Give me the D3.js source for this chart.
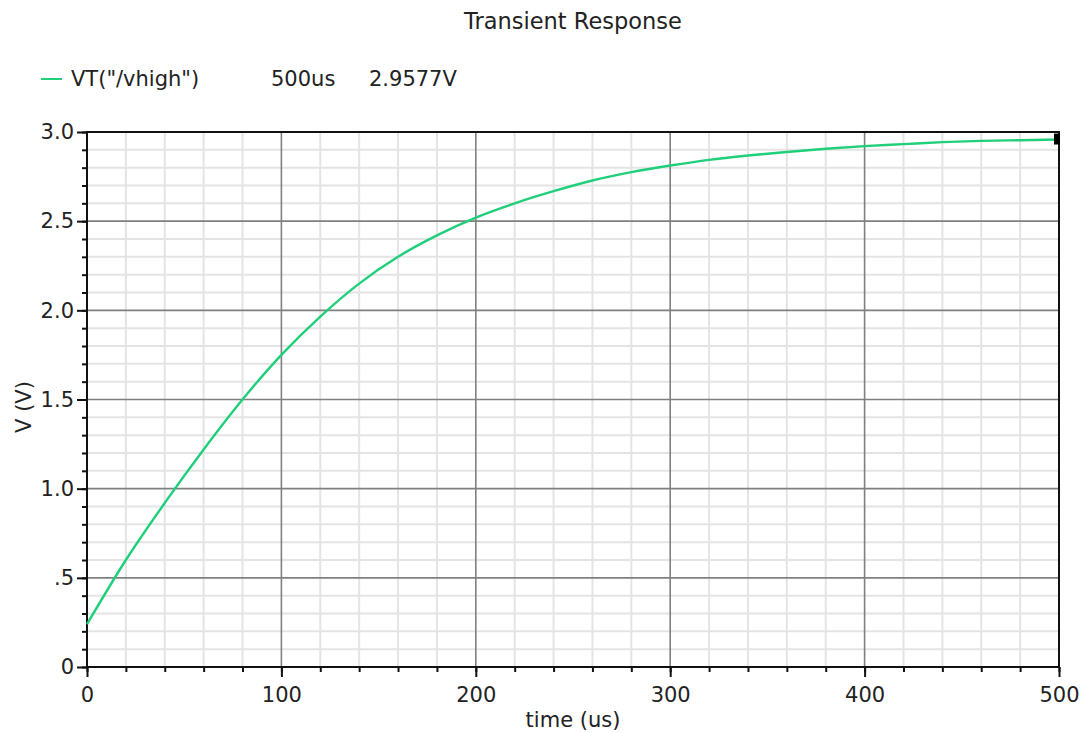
<!DOCTYPE html>
<html>
<head>
<meta charset="utf-8">
<script src="https://cdn.jsdelivr.net/npm/d3@7"></script>
<style>
  html, body { margin: 0; padding: 0; background: #ffffff; }
  svg { display: block; }
  text { font-family: "DejaVu Sans", sans-serif; fill: #222; }
</style>
</head>
<body>
<svg id="chart" width="1086" height="733"></svg>
<script>
// Transient response of node /vhigh, sampled every 20 us
const timeUs = [0, 20, 40, 60, 80, 100, 120, 140, 160, 180, 200, 220, 240, 260,
                280, 300, 320, 340, 360, 380, 400, 420, 440, 460, 480, 500];
const voltage = [0.24, 0.60, 0.92, 1.22, 1.50, 1.75, 1.965, 2.15, 2.30, 2.42, 2.52, 2.60, 2.668, 2.728,
                 2.775, 2.812, 2.844, 2.868, 2.888, 2.906, 2.921, 2.932, 2.943, 2.950, 2.954, 2.9577];

const xTicks = [0, 100, 200, 300, 400, 500];
const xTickLabels = ["0", "100", "200", "300", "400", "500"];
const yTicks = [0, 0.5, 1.0, 1.5, 2.0, 2.5, 3.0];
const yTickLabels = ["0", ".5", "1.0", "1.5", "2.0", "2.5", "3.0"];

const chartTitle = "Transient Response";
const seriesName = "VT(\"/vhigh\")";
const cursorTime = "500us";
const cursorValue = "2.9577V";
const xLabel = "time (us)";
const yLabel = "V (V)";

const svg = d3.select("#chart");
const plot = { left: 87, right: 1059, top: 132, bottom: 667 };

const x = d3.scaleLinear().domain([0, 500]).range([plot.left, plot.right]);
const y = d3.scaleLinear().domain([0, 3]).range([plot.bottom, plot.top]);

const minorX = d3.range(0, 501, 20);
const minorY = d3.range(0, 31, 1).map(d => d / 10);

// Minor grid
const grid = svg.append("g");
grid.selectAll("line.mx").data(minorX.filter(d => d % 100 !== 0)).join("line")
  .attr("x1", d => x(d)).attr("x2", d => x(d))
  .attr("y1", plot.top).attr("y2", plot.bottom)
  .attr("stroke", "#e4e4e4").attr("stroke-width", 2);
grid.selectAll("line.my").data(minorY.filter(d => Math.round(d * 10) % 5 !== 0)).join("line")
  .attr("x1", plot.left).attr("x2", plot.right)
  .attr("y1", d => y(d)).attr("y2", d => y(d))
  .attr("stroke", "#e4e4e4").attr("stroke-width", 2);

// Major grid
grid.selectAll("line.Mx").data(xTicks.slice(1, -1)).join("line")
  .attr("x1", d => x(d)).attr("x2", d => x(d))
  .attr("y1", plot.top).attr("y2", plot.bottom)
  .attr("stroke", "#808080").attr("stroke-width", 1.6);
grid.selectAll("line.My").data(yTicks.slice(1, -1)).join("line")
  .attr("x1", plot.left).attr("x2", plot.right)
  .attr("y1", d => y(d)).attr("y2", d => y(d))
  .attr("stroke", "#808080").attr("stroke-width", 1.6);

// Axes: major ticks long, minor ticks short, both outward
const xAxisMinor = d3.axisBottom(x).tickValues(minorX).tickSize(5).tickFormat("");
const xAxisMajor = d3.axisBottom(x).tickValues(xTicks).tickSize(10)
  .tickFormat((d, i) => xTickLabels[i]).tickPadding(10);
const yAxisMinor = d3.axisLeft(y).tickValues(minorY).tickSize(5).tickFormat("");
const yAxisMajor = d3.axisLeft(y).tickValues(yTicks).tickSize(10)
  .tickFormat((d, i) => yTickLabels[i]).tickPadding(3);

function styleAxis(g) {
  g.select(".domain").remove();
  g.selectAll(".tick line").attr("stroke", "#111").attr("stroke-width", 2);
  g.selectAll(".tick text").attr("font-size", 21).attr("fill", "#222")
    .attr("font-family", "DejaVu Sans, sans-serif");
}
svg.append("g").attr("transform", `translate(0,${plot.bottom})`).call(xAxisMinor).call(styleAxis);
svg.append("g").attr("transform", `translate(0,${plot.bottom})`).call(xAxisMajor).call(styleAxis);
svg.append("g").attr("transform", `translate(${plot.left},0)`).call(yAxisMinor).call(styleAxis);
svg.append("g").attr("transform", `translate(${plot.left},0)`).call(yAxisMajor).call(styleAxis);

// Frame
svg.append("rect")
  .attr("x", plot.left).attr("y", plot.top)
  .attr("width", plot.right - plot.left).attr("height", plot.bottom - plot.top)
  .attr("fill", "none").attr("stroke", "#111").attr("stroke-width", 2);

// Trace
const traceColor = "#1fcf7a";
const pts = timeUs.map((t, i) => [t, voltage[i]]);
svg.append("path")
  .datum(pts)
  .attr("fill", "none")
  .attr("stroke", traceColor)
  .attr("stroke-width", 2.4)
  .attr("d", d3.line().x(d => x(d[0])).y(d => y(d[1])).curve(d3.curveMonotoneX));

// Cursor marker at the final sample
const last = pts[pts.length - 1];
svg.append("rect")
  .attr("x", x(last[0]) - 5).attr("y", y(last[1]) - 6)
  .attr("width", 6).attr("height", 11)
  .attr("fill", "#000");

// Title
svg.append("text")
  .attr("x", 573).attr("y", 29)
  .attr("text-anchor", "middle").attr("font-size", 22.5)
  .text(chartTitle);

// Legend
svg.append("line")
  .attr("x1", 41).attr("x2", 62).attr("y1", 79).attr("y2", 79)
  .attr("stroke", traceColor).attr("stroke-width", 2);
svg.append("text").attr("x", 71).attr("y", 86).attr("font-size", 21).text(seriesName);
svg.append("text").attr("x", 271).attr("y", 86).attr("font-size", 21).text(cursorTime);
svg.append("text").attr("x", 369).attr("y", 86).attr("font-size", 21).text(cursorValue);

// Axis titles
svg.append("text")
  .attr("x", 573).attr("y", 727)
  .attr("text-anchor", "middle").attr("font-size", 21)
  .text(xLabel);
svg.append("text")
  .attr("transform", "translate(31,407) rotate(-90)")
  .attr("text-anchor", "middle").attr("font-size", 21)
  .text(yLabel);
</script>
</body>
</html>
